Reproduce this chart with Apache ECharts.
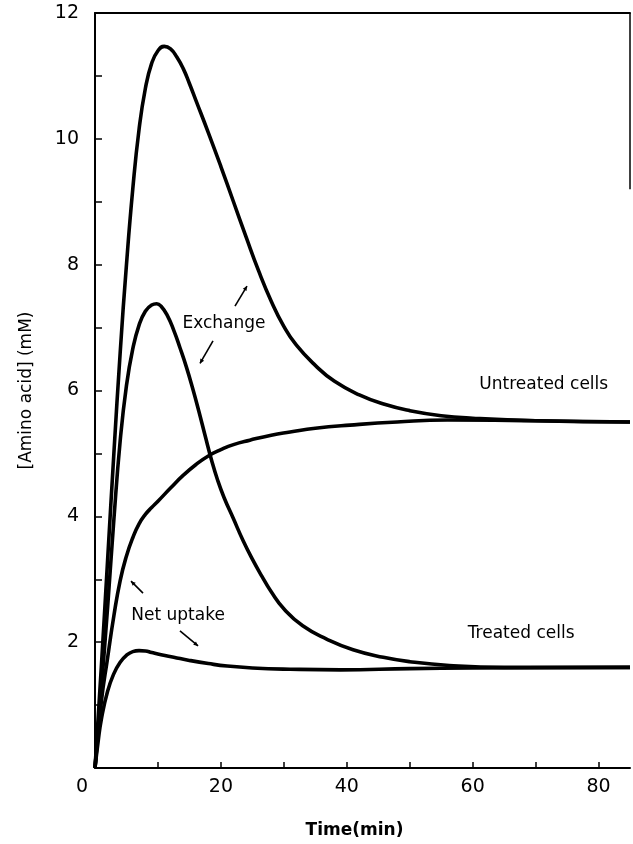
<!DOCTYPE html>
<html>
<head>
<meta charset="utf-8">
<script src="https://cdn.jsdelivr.net/npm/echarts@6/dist/echarts.min.js"></script>
<style>
html,body{margin:0;padding:0;background:#fff;}
#chart{width:633px;height:844px;}
</style>
</head>
<body>
<div id="chart"></div>
<script>
// Time (min), [Amino acid] (mM)
const untreatedExchange = [[0,0],[1,1.6],[2,3.3],[3,5.0],[4,6.6],[5,8.0],[6,9.2],[7,10.15],[8,10.8],[9,11.2],[10,11.4],[11,11.47],[12,11.43],[13,11.3],[14,11.12],[15,10.88],[16,10.62],[18,10.1],[20,9.56],[22,9.0],[24,8.44],[26,7.9],[28,7.42],[30,7.02],[32,6.72],[35,6.4],[38,6.15],[42,5.93],[46,5.78],[50,5.68],[55,5.6],[60,5.56],[70,5.52],[85,5.5]];
const treatedExchange = [[0,0],[1,1.25],[2,2.55],[3,3.95],[4,5.2],[5,6.08],[6,6.66],[7,7.04],[8,7.26],[9,7.36],[9.8,7.38],[10.5,7.34],[11.5,7.19],[12.5,6.96],[13.5,6.68],[14.5,6.38],[15.5,6.04],[16.5,5.67],[17.5,5.28],[18.5,4.9],[19.5,4.57],[20.5,4.3],[22,3.96],[23.5,3.62],[25,3.32],[26.5,3.05],[28,2.8],[30,2.53],[33,2.26],[36.8,2.05],[41,1.88],[45.8,1.76],[50,1.69],[56.3,1.63],[65,1.6],[85,1.6]];
const untreatedNetUptake = [[0,0],[1,1.05],[2,1.75],[3,2.42],[4,2.98],[5,3.37],[6,3.66],[7,3.88],[8,4.03],[9,4.14],[10,4.24],[12,4.45],[14,4.65],[16,4.82],[18,4.96],[20,5.06],[22,5.14],[24.6,5.21],[28,5.29],[31,5.34],[35,5.4],[40.5,5.45],[48,5.5],[56,5.53],[70,5.52],[85,5.5]];
const treatedNetUptake = [[0,0],[0.5,0.42],[1,0.77],[2,1.22],[3,1.5],[4,1.68],[5,1.79],[6,1.85],[7,1.865],[8,1.86],[9,1.835],[10.5,1.8],[12.5,1.76],[15,1.71],[18,1.66],[21,1.62],[25,1.59],[31,1.57],[39,1.56],[50,1.58],[60,1.59],[85,1.6]];

const xTickLabels = [0,20,40,60,80];
const yTickLabels = [2,4,6,8,10,12];

// annotations [text, x, y] in data units
const labels = [["Exchange",20.5,7.07],["Untreated cells",71.3,6.09],["Treated cells",67.7,2.13],["Net uptake",13.2,2.43]];
// arrows [x1,y1,x2,y2] from tail to head, data units
const arrows = [[22.24,7.34,24.15,7.66],[18.75,6.79,16.68,6.43],[7.63,2.78,5.72,2.97],[13.5,2.18,16.37,1.94]];

const FONT = 'DejaVu Sans';
const chart = echarts.init(document.getElementById('chart'));
const lineSeries = (name, data) => ({
  name, type:'line', data, smooth:0.5, showSymbol:false, symbol:'none',
  lineStyle:{color:'#000', width:3.6}, z:3, animation:false
});
chart.setOption({
  animation:false,
  backgroundColor:'#fff',
  grid:{left:95, right:3, top:13, bottom:71},
  xAxis:[{
    type:'value', min:0, max:85, interval:10,
    name:'Time(min)', nameLocation:'middle', nameGap:54,
    nameTextStyle:{color:'#000', fontFamily:FONT, fontSize:17, fontWeight:'bold', padding:[0,16,0,0]},
    axisLine:{show:true, lineStyle:{color:'#000', width:2}},
    axisTick:{show:true, inside:true, length:6, lineStyle:{color:'#000', width:1.5}},
    splitLine:{show:false},
    axisLabel:{
      color:'#000', fontFamily:FONT, fontSize:19, margin:10, showMaxLabel:false,
      formatter: v => {
        if (v === 0) return '{z|0}';
        return xTickLabels.indexOf(v) >= 0 ? String(v) : '';
      },
      rich:{z:{color:'#000', fontFamily:FONT, fontSize:19, padding:[0,26,0,0]}}
    }
  },{
    type:'value', min:0, max:85, position:'top',
    axisLine:{show:true, onZero:false, lineStyle:{color:'#000', width:2}},
    axisTick:{show:false}, axisLabel:{show:false}, splitLine:{show:false}
  }],
  yAxis:{
    type:'value', min:0, max:12, interval:1,
    name:'[Amino acid] (mM)', nameLocation:'middle', nameGap:60, nameRotate:90,
    nameTextStyle:{color:'#000', fontFamily:FONT, fontSize:17},
    axisLine:{show:true, lineStyle:{color:'#000', width:2}},
    axisTick:{show:true, inside:true, length:7, lineStyle:{color:'#000', width:1.5}},
    splitLine:{show:false},
    axisLabel:{
      color:'#000', fontFamily:FONT, fontSize:19, margin:16,
      formatter: v => yTickLabels.indexOf(v) >= 0 ? String(v) : ''
    }
  },
  series:[
    lineSeries('Untreated exchange', untreatedExchange),
    lineSeries('Treated exchange', treatedExchange),
    lineSeries('Untreated net uptake', untreatedNetUptake),
    lineSeries('Treated net uptake', treatedNetUptake)
  ]
});

const px = (x,y) => chart.convertToPixel({gridIndex:0}, [x,y]);
const graphics = [];
labels.forEach(([t,x,y]) => {
  const p = px(x,y);
  graphics.push({type:'text', x:p[0], y:p[1], style:{text:t, fill:'#000', font:'17px "'+FONT+'"', textAlign:'center', textVerticalAlign:'middle'}});
});
arrows.forEach(([x1,y1,x2,y2]) => {
  const a = px(x1,y1), b = px(x2,y2);
  graphics.push({type:'line', shape:{x1:a[0],y1:a[1],x2:b[0],y2:b[1]}, style:{stroke:'#000', lineWidth:1.6}});
  const ang = Math.atan2(b[1]-a[1], b[0]-a[0]);
  const L = 5, spread = 0.45;
  graphics.push({type:'polygon', shape:{points:[[b[0],b[1]],[b[0]-L*Math.cos(ang-spread), b[1]-L*Math.sin(ang-spread)],[b[0]-L*Math.cos(ang+spread), b[1]-L*Math.sin(ang+spread)]]}, style:{fill:'#000'}});
});
// partial right frame edge
const r1 = px(85,12), r2 = px(85,9.2);
graphics.push({type:'line', shape:{x1:r1[0],y1:r1[1],x2:r2[0],y2:r2[1]}, style:{stroke:'#000', lineWidth:1.5}});
chart.setOption({graphic:graphics});
</script>
</body>
</html>
